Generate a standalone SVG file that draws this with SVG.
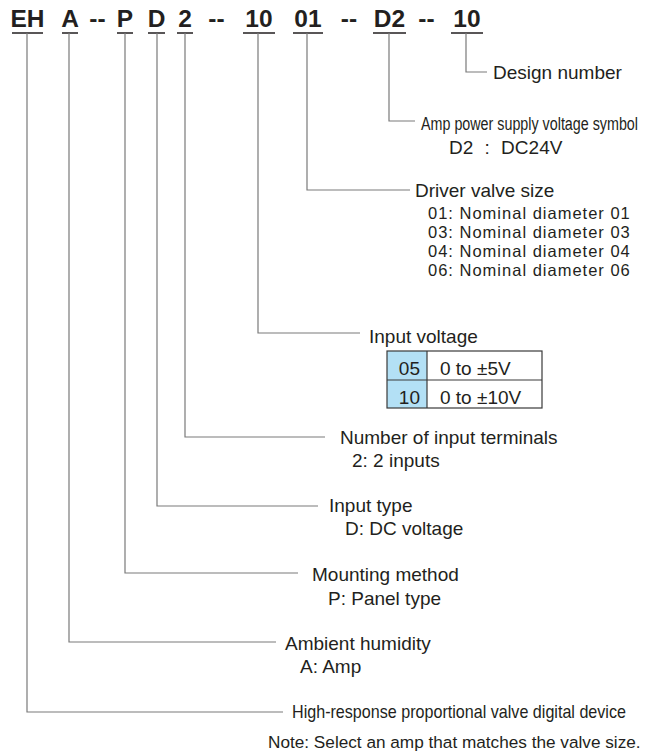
<svg xmlns="http://www.w3.org/2000/svg" width="656" height="754" viewBox="0 0 656 754">
<style>
.code{font-family:"Liberation Sans",Arial,sans-serif;font-weight:bold;font-size:24.5px;fill:#231f20;text-anchor:middle}
.t{font-family:"Liberation Sans",Arial,sans-serif;font-size:19px;fill:#231f20}
.r{font-family:"Liberation Sans",Arial,sans-serif;font-size:16.5px;letter-spacing:1px;fill:#231f20}
.c{font-family:"Liberation Sans",Arial,sans-serif;font-size:18px;fill:#231f20}
.n{font-family:"Liberation Sans",Arial,sans-serif;font-size:17.2px;fill:#231f20}
.ul{stroke:#231f20;stroke-width:1.3;fill:none}
.ln{stroke:#7a7a7a;stroke-width:1.2;fill:none}
.tb{stroke:#3a3a3a;stroke-width:1.2}
</style>
<rect width="656" height="754" fill="#fff"/>
<g id="code">
<text class="code" x="27.5" y="27">EH</text>
<text class="code" x="70" y="27">A</text>
<text class="code" x="97.5" y="27">--</text>
<text class="code" x="125" y="27">P</text>
<text class="code" x="156.5" y="27">D</text>
<text class="code" x="185" y="27">2</text>
<text class="code" x="216.5" y="27">--</text>
<text class="code" x="259" y="27">10</text>
<text class="code" x="308" y="27">01</text>
<text class="code" x="349" y="27">--</text>
<text class="code" x="389.5" y="27">D2</text>
<text class="code" x="426.5" y="27">--</text>
<text class="code" x="467" y="27">10</text>
<path class="ul" d="M12 33H43M62 33H78M117 33H133M148 33H165M177 33H193M243 33H275M293 33H323M373 33H406M451 33H483"/>
</g>
<g id="connectors">
<path class="ln" d="M466 33V72H487"/>
<path class="ln" d="M389 33V121H415"/>
<path class="ln" d="M307 33V190H410"/>
<path class="ln" d="M258 33V333H360"/>
<path class="ln" d="M185 33V437H325"/>
<path class="ln" d="M157 33V506H318"/>
<path class="ln" d="M125 33V573H298"/>
<path class="ln" d="M69 33V642H276"/>
<path class="ln" d="M27 33V712H283"/>
</g>
<g id="design-number">
<text class="t" x="493" y="79">Design number</text>
</g>
<g id="amp-power">
<text class="c" transform="translate(421,130) scale(0.795,1)">Amp power supply voltage symbol</text>
<text class="t" x="449" y="154" word-spacing="6">D2 : DC24V</text>
</g>
<g id="driver-valve-size">
<text class="t" x="415" y="197">Driver valve size</text>
<text class="r" x="428" y="219">01: Nominal diameter 01</text>
<text class="r" x="428" y="238">03: Nominal diameter 03</text>
<text class="r" x="428" y="257">04: Nominal diameter 04</text>
<text class="r" x="428" y="276">06: Nominal diameter 06</text>
</g>
<g id="input-voltage">
<text class="t" x="369" y="343">Input voltage</text>
<rect x="387" y="351" width="40" height="57" fill="#b3e0f5"/>
<rect class="tb" x="387" y="351" width="155" height="57" fill="none"/>
<path class="tb" d="M427 351V408M387 380H542"/>
<text class="t" x="420" y="375" text-anchor="end">05</text>
<text class="t" x="420" y="404" text-anchor="end">10</text>
<text class="t" x="440" y="375">0 to ±5V</text>
<text class="t" x="440" y="404">0 to ±10V</text>
</g>
<g id="input-terminals">
<text class="t" x="340" y="444">Number of input terminals</text>
<text class="t" x="352" y="467">2: 2 inputs</text>
</g>
<g id="input-type">
<text class="t" x="329" y="512">Input type</text>
<text class="t" x="345" y="535">D: DC voltage</text>
</g>
<g id="mounting-method">
<text class="t" x="312" y="581">Mounting method</text>
<text class="t" x="328" y="605">P: Panel type</text>
</g>
<g id="ambient-humidity">
<text class="t" x="285" y="650">Ambient humidity</text>
<text class="t" x="300" y="673">A: Amp</text>
</g>
<g id="device">
<text class="c" transform="translate(292,718) scale(0.895,1)">High-response proportional valve digital device</text>
</g>
<g id="note">
<text class="n" x="268" y="748">Note: Select an amp that matches the valve size.</text>
</g>
</svg>
